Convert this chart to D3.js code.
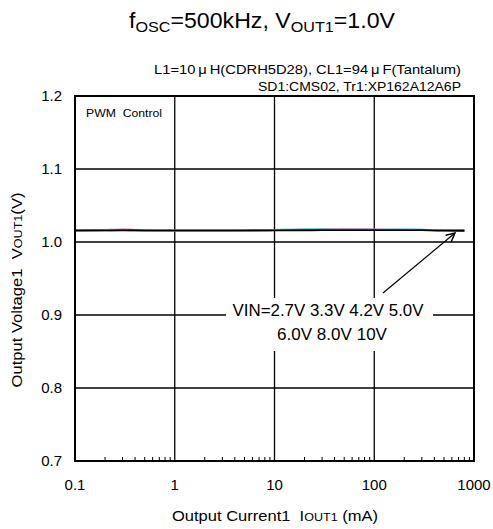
<!DOCTYPE html>
<html><head><meta charset="utf-8">
<script src="https://cdn.jsdelivr.net/npm/d3@7"></script>
<style>body{margin:0;background:#fff}text{font-family:Arial,"Liberation Sans",sans-serif}</style>
</head><body><svg id="c" width="493" height="529"></svg>
<script>
const currents = [0.1, 0.2, 0.3, 0.5, 1, 2, 3, 5, 10, 20, 30, 50, 100, 200, 300, 500, 800];
const vin27 = [1.0158,1.0163,1.0168,1.0160,1.0157,1.0157,1.0157,1.0158,1.0160,1.0163,1.0168,1.0170,1.0168,1.0165,1.0162,1.0157,1.0156];
const vin33 = [1.0157,1.0166,1.0174,1.0162,1.0157,1.0157,1.0157,1.0158,1.0160,1.0164,1.0170,1.0174,1.0173,1.0167,1.0163,1.0157,1.0156];
const vin42 = [1.0157,1.0161,1.0164,1.0159,1.0157,1.0157,1.0157,1.0160,1.0168,1.0174,1.0174,1.0170,1.0168,1.0168,1.0166,1.0157,1.0156];
const vin50 = [1.0157,1.0160,1.0162,1.0159,1.0157,1.0157,1.0157,1.0159,1.0163,1.0167,1.0168,1.0168,1.0172,1.0173,1.0172,1.0158,1.0156];
const vin60 = [1.0157,1.0160,1.0161,1.0159,1.0157,1.0157,1.0157,1.0158,1.0161,1.0164,1.0166,1.0166,1.0168,1.0170,1.0169,1.0158,1.0156];
const vin80 = [1.0157,1.0159,1.0160,1.0158,1.0157,1.0157,1.0157,1.0158,1.0160,1.0162,1.0163,1.0163,1.0164,1.0164,1.0163,1.0157,1.0156];
const vin10 = [1.0157,1.0158,1.0159,1.0158,1.0157,1.0157,1.0157,1.0157,1.0158,1.0159,1.0160,1.0160,1.0161,1.0161,1.0160,1.0157,1.0156];
const seriesNames = ["2.7V","3.3V","4.2V","5.0V","6.0V","8.0V","10V"];
const seriesValues = [vin27, vin33, vin42, vin50, vin60, vin80, vin10];
const seriesColors = ["#e879b0","#e05a9c","#1a9aa0","#5ab4e0","#88c8e8","#404040","#000000"];
const xTicks = [0.1, 1, 10, 100, 1000];
const yTicks = [0.7, 0.8, 0.9, 1.0, 1.1, 1.2];

const svg = d3.select("#c");
const L = 75, R = 474, T = 96, B = 461;
const x = d3.scaleLog().domain([0.1, 1000]).range([L, R]);
const y = d3.scaleLinear().domain([0.7, 1.2]).range([B, T]);

// grid
svg.append("g").selectAll("line").data(xTicks.slice(1, -1)).join("line")
  .attr("x1", d => x(d)).attr("x2", d => x(d)).attr("y1", T).attr("y2", B)
  .attr("stroke", "#000").attr("stroke-width", 1.3);
svg.append("g").selectAll("line").data(yTicks.slice(1, -1)).join("line")
  .attr("x1", L).attr("x2", R).attr("y1", d => y(d)).attr("y2", d => y(d))
  .attr("stroke", "#000").attr("stroke-width", 1.3);

// minor ticks on bottom
const minors = [];
for (let e = -1; e < 3; e++) for (let m = 2; m <= 9; m++) minors.push(m * Math.pow(10, e));
svg.append("g").selectAll("line").data(minors).join("line")
  .attr("x1", d => x(d)).attr("x2", d => x(d)).attr("y1", B).attr("y2", B - 4)
  .attr("stroke", "#000").attr("stroke-width", 1);

// lines
const line = d3.line().x((d, i) => x(currents[i])).y(d => y(d)).curve(d3.curveMonotoneX);
seriesValues.forEach((vals, k) => {
  svg.append("path").datum(vals).attr("d", line).attr("fill", "none")
    .attr("stroke", seriesColors[k]).attr("stroke-width", 1.6);
});

// frame
svg.append("rect").attr("x", L).attr("y", T).attr("width", R - L).attr("height", B - T)
  .attr("fill", "none").attr("stroke", "#000").attr("stroke-width", 2);

// tick labels
svg.append("g").selectAll("text").data(xTicks).join("text")
  .attr("x", d => x(d)).attr("y", 490).attr("text-anchor", "middle")
  .attr("font-size", 15).text(d => d >= 1 ? d3.format("d")(d) : d);
svg.append("g").selectAll("text").data(yTicks).join("text")
  .attr("x", 62).attr("y", d => y(d) + 5).attr("text-anchor", "end")
  .attr("font-size", 15).text(d => d.toFixed(1));

// annotation with white background
svg.append("rect").attr("x", 226).attr("y", 298).attr("width", 207).attr("height", 53).attr("fill", "#fff");
svg.append("text").attr("x", 328).attr("y", 316).attr("text-anchor", "middle").attr("font-size", 16.5)
  .attr("textLength", 191).attr("lengthAdjust", "spacingAndGlyphs")
  .text("VIN=" + seriesNames.slice(0, 4).join(" "));
svg.append("text").attr("x", 332).attr("y", 340).attr("text-anchor", "middle").attr("font-size", 16.5)
  .attr("textLength", 110).attr("lengthAdjust", "spacingAndGlyphs")
  .text(seriesNames.slice(4).join(" "));
svg.append("defs").append("marker").attr("id", "ah").attr("viewBox", "0 0 10 10")
  .attr("refX", 9).attr("refY", 5).attr("markerWidth", 9).attr("markerHeight", 9).attr("orient", "auto")
  .append("path").attr("d", "M1,1 L9,5 L1,9").attr("fill", "none").attr("stroke", "#000").attr("stroke-width", 1.3);
svg.append("line").attr("x1", 383).attr("y1", 293).attr("x2", 455).attr("y2", 233)
  .attr("stroke", "#000").attr("stroke-width", 1.2).attr("marker-end", "url(#ah)");

svg.append("text").attr("x", 86).attr("y", 117).attr("font-size", 11.5)
  .attr("textLength", 76).attr("lengthAdjust", "spacingAndGlyphs").text("PWM\u00a0 Control");

// titles
const t = svg.append("text").attr("x", 262).attr("y", 28).attr("text-anchor", "middle").attr("font-size", 21.5)
  .attr("textLength", 266).attr("lengthAdjust", "spacingAndGlyphs");
t.append("tspan").text("f");
t.append("tspan").attr("font-size", 15).attr("dy", 4).text("OSC");
t.append("tspan").attr("dy", -4).text("=500kHz, V");
t.append("tspan").attr("font-size", 15).attr("dy", 4).text("OUT1");
t.append("tspan").attr("dy", -4).text("=1.0V");

svg.append("text").attr("x", 461).attr("y", 74).attr("text-anchor", "end").attr("font-size", 12.5)
  .attr("textLength", 307).attr("lengthAdjust", "spacingAndGlyphs")
  .text("L1=10\u2009\u03bc\u2009H(CDRH5D28), CL1=94\u2009\u03bc\u2009F(Tantalum)");
svg.append("text").attr("x", 461).attr("y", 91).attr("text-anchor", "end").attr("font-size", 12.5)
  .attr("textLength", 203).attr("lengthAdjust", "spacingAndGlyphs")
  .text("SD1:CMS02, Tr1:XP162A12A6P");

const xl = svg.append("text").attr("x", 275).attr("y", 521).attr("text-anchor", "middle").attr("font-size", 14.5)
  .attr("textLength", 206).attr("lengthAdjust", "spacingAndGlyphs");
xl.append("tspan").text("Output Current1\u00a0 I");
xl.append("tspan").attr("font-size", 11).text("OUT1");
xl.append("tspan").text(" (mA)");

const yl = svg.append("text").attr("transform", "translate(22,290) rotate(-90)").attr("text-anchor", "middle").attr("font-size", 14.5)
  .attr("textLength", 195).attr("lengthAdjust", "spacingAndGlyphs");
yl.append("tspan").text("Output Voltage1\u00a0 V");
yl.append("tspan").attr("font-size", 11).text("OUT1");
yl.append("tspan").text("(V)");
</script></body></html>
